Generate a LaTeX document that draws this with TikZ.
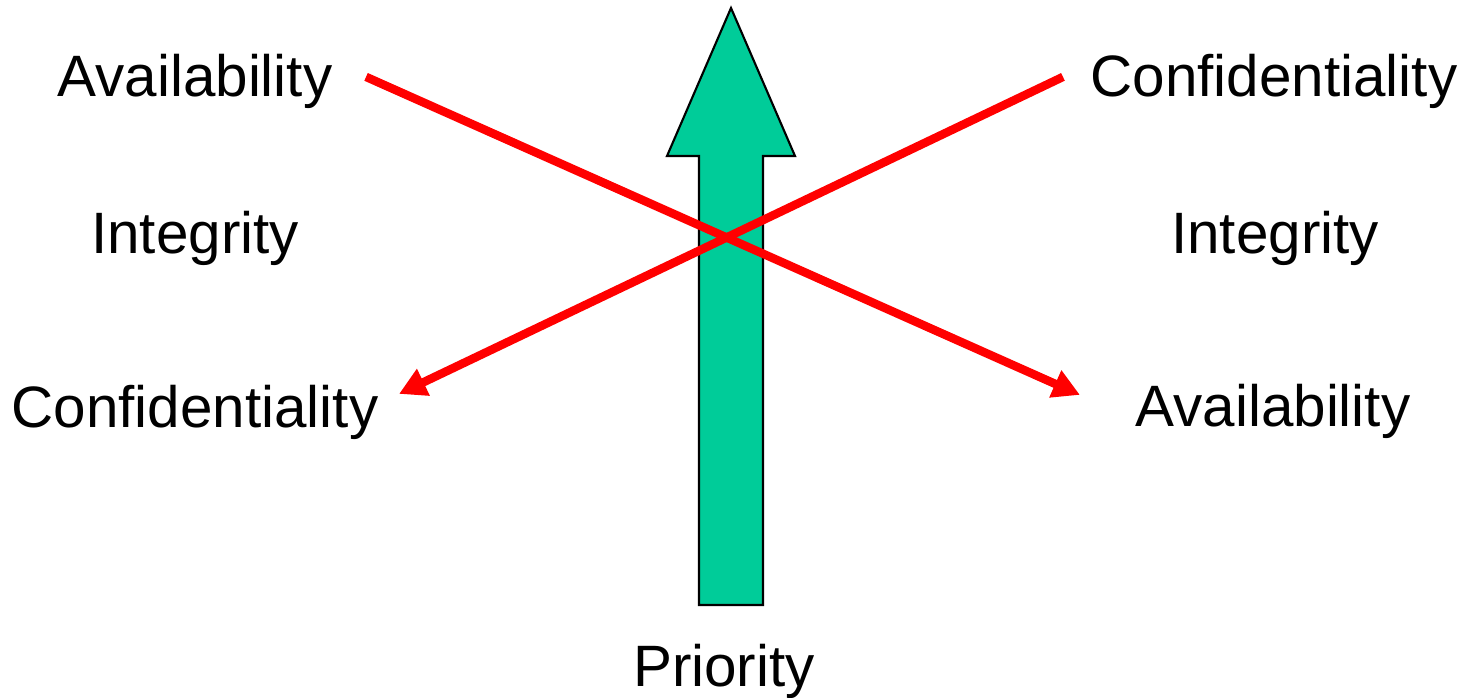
\documentclass[tikz,border=0pt]{standalone}
\usepackage{fontspec}
\setmainfont{Liberation Sans}
\usepackage{tikz}
\usetikzlibrary{arrows.meta,positioning}
\definecolor{prioGreen}{RGB}{0,204,153}

\begin{document}
\begin{tikzpicture}[
    x=0.01cm, y=-0.01cm,
    lbl/.style={anchor=base, inner sep=0pt, font=\fontsize{16.6}{20}\selectfont},
    prioarrow/.style={draw=black, line width=0.6pt, fill=prioGreen, line join=miter},
    cross/.style={-{Triangle[length=0.27cm, width=0.28cm]}, red, line width=0.085cm}
]
\useasboundingbox (0,0) rectangle (1461,698);

% the priority arrow
\draw[prioarrow] (699,605) -- (699,156) -- (667,156) -- (731,8) -- (795,156)
    -- (763,156) -- (763,605) -- cycle;

\node[lbl] (availL) at (195,97) {Availability};
\node[lbl] (integL) at (195,254) {Integrity};
\node[lbl] (confL) at (195,428) {Confidentiality};

\node[lbl] (confR) at (1274,97) {Confidentiality};
\node[lbl] (integR) at (1275,254) {Integrity};
\node[lbl] (availR) at (1273,427) {Availability};

\node[lbl] (prio) at (724,687) {Priority};

\draw[cross] ([shift={(33,-5)}]availL.east) -- ([shift={(-55,-17)}]availR.west);
\draw[cross] ([shift={(-27,-5)}]confR.west) -- ([shift={(20,-19)}]confL.east);
\end{tikzpicture}
\end{document}
